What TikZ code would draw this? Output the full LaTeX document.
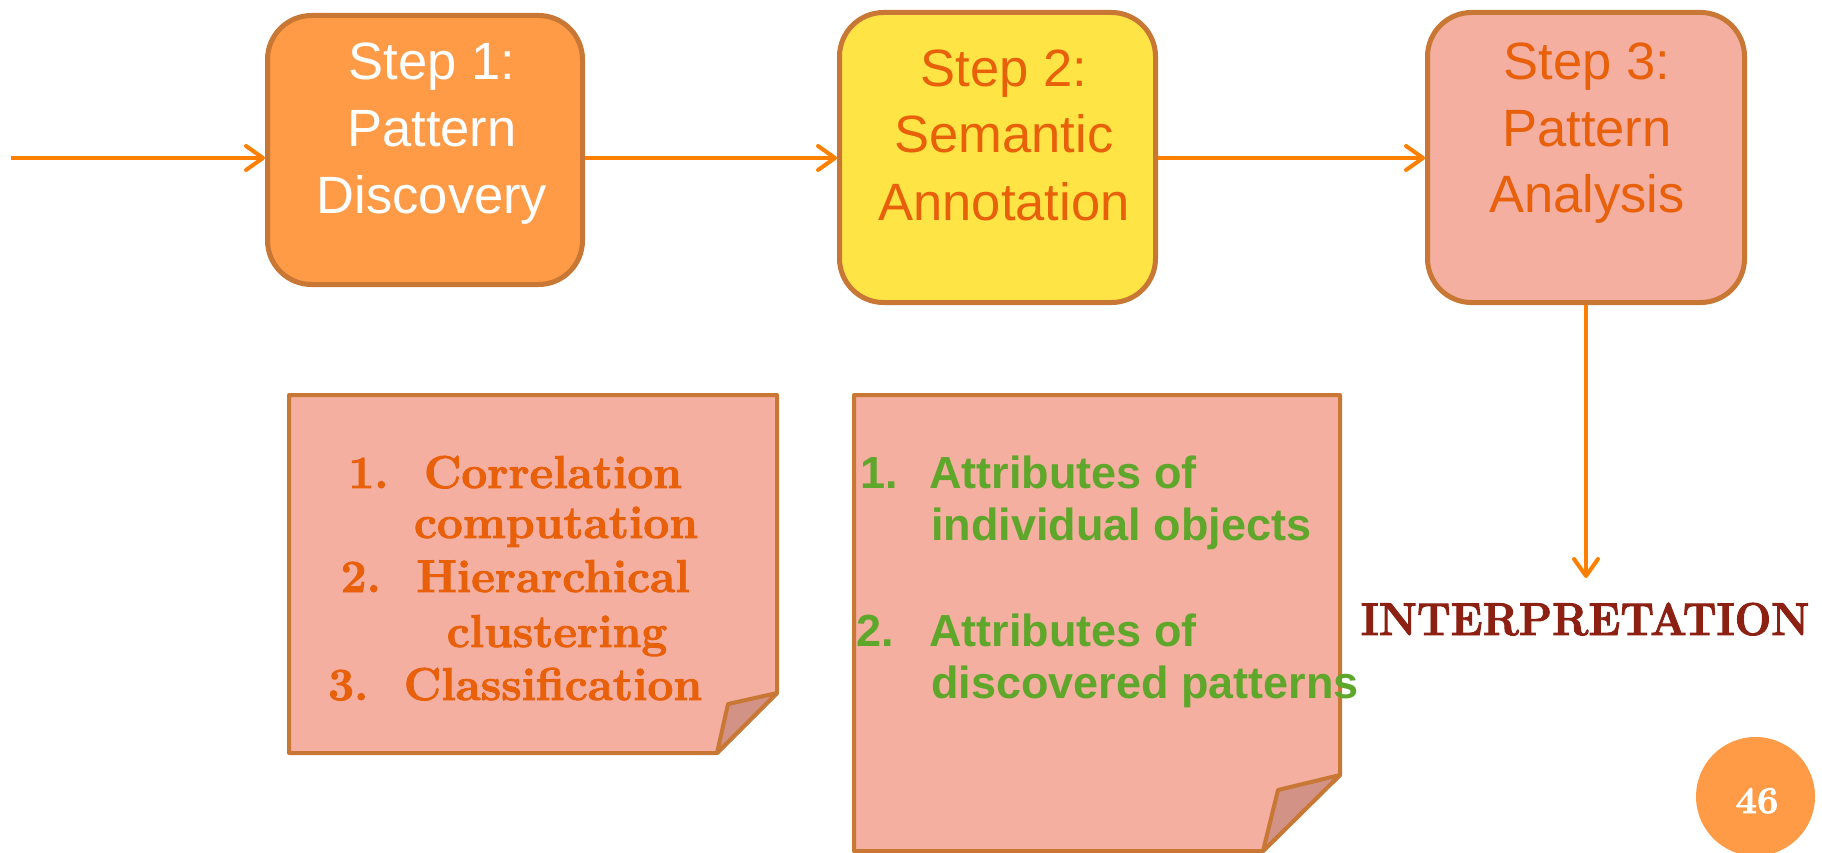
\documentclass[tikz,border=0pt]{standalone}
\usepackage{fontspec}
\newfontfamily\stepfont{Liberation Sans}
\newfontfamily\heavyserif[BoldFeatures={FakeBold=2}]{Latin Modern Roman}
\newfontfamily\narrowserif[BoldFeatures={FakeBold=2,FakeStretch=0.94}]{Latin Modern Roman}
\usetikzlibrary{arrows.meta}

\definecolor{boxline}{RGB}{201,119,52}
\definecolor{flowline}{RGB}{255,128,0}
\definecolor{orangefill}{RGB}{255,154,71}
\definecolor{yellowfill}{RGB}{255,228,70}
\definecolor{pinkfill}{RGB}{244,175,161}
\definecolor{flapfill}{RGB}{210,146,133}
\definecolor{orangetext}{RGB}{232,96,10}
\definecolor{greentext}{RGB}{94,167,42}
\definecolor{darkred}{RGB}{140,32,18}

\tikzset{
  stepbox/.style={draw=boxline, line width=5pt, rounded corners=44pt, inner sep=0pt},
  steptext/.style={font=\stepfont\fontsize{52.5}{62}\selectfont, anchor=base, inner sep=0pt},
  flow/.style={draw=flowline, line width=4pt,
    -{Straight Barb[length=17pt,width=24pt,line cap=round,line join=round]}},
  note/.style={draw=boxline, line width=4pt, line join=round, fill=pinkfill},
  flap/.style={draw=boxline, line width=4pt, line join=round, fill=flapfill},
  listserif/.style={font=\heavyserif\bfseries\fontsize{46}{52}\selectfont, text=orangetext, inner sep=0pt},
  listsans/.style={font=\stepfont\bfseries\fontsize{45}{52}\selectfont, text=greentext,
    inner sep=0pt, anchor=base west},
}

\begin{document}
\begin{tikzpicture}[x=1pt,y=-1pt]
\useasboundingbox (0,0) rectangle (1822,853);

% the three process steps
\node[stepbox, fill=orangefill, minimum width=315pt, minimum height=269pt] (s1) at (425,150) {};
\node[stepbox, fill=yellowfill, minimum width=316pt, minimum height=290pt] (s2) at (997.5,157.5) {};
\node[stepbox, fill=pinkfill, minimum width=317pt, minimum height=290pt] (s3) at (1586,157.5) {};

\node[steptext, text=white] (t1a) at (432,80) {Step 1:};
\node[steptext, text=white] (t1b) at (432,147) {Pattern};
\node[steptext, text=white] (t1c) at (432,213) {Discovery};

\node[steptext, text=orangetext] (t2a) at (1004,87) {Step 2:};
\node[steptext, text=orangetext] (t2b) at (1004,153) {Semantic};
\node[steptext, text=orangetext] (t2c) at (1004,220) {Annotation};

\node[steptext, text=orangetext] (t3a) at (1587,80) {Step 3:};
\node[steptext, text=orangetext] (t3b) at (1587,147) {Pattern};
\node[steptext, text=orangetext] (t3c) at (1587,212) {Analysis};

% flow arrows
\coordinate (in) at (11,158);
\coordinate (out) at (1586,578);
\draw[flow] (in) -- (in -| s1.west);
\draw[flow] (s1.east |- in) -- (in -| s2.west);
\draw[flow] (s2.east |- in) -- (in -| s3.west);
\draw[flow] (s3.south) -- (out);

% sticky note for step 1
\draw[note] (289,395) -- (777,395) -- (777,693) -- (717,753) -- (289,753) -- cycle;
\draw[flap] (777,693) -- (728,704) -- (717,753) -- cycle;

\node[listserif, anchor=base] (c1) at (553,488) {Correlation};
\node[listserif, anchor=base east] (c1n) at ([xshift=-35pt]c1.base west) {1.};
\node[listserif, anchor=base] (c2) at (556,538) {computation};
\node[listserif, anchor=base] (c3) at (553,592) {Hierarchical};
\node[listserif, anchor=base east] (c3n) at ([xshift=-35pt]c3.base west) {2.};
\node[listserif, anchor=base] (c4) at (557,647) {clustering};
\node[listserif, anchor=base] (c5) at (553,700) {Classification};
\node[listserif, anchor=base east] (c5n) at ([xshift=-35pt]c5.base west) {3.};

% sticky note for step 2
\draw[note] (854,395) -- (1340,395) -- (1340,775) -- (1263,851) -- (854,851) -- cycle;
\draw[flap] (1340,775) -- (1278,790) -- (1263,851) -- cycle;

\node[listsans] (a1n) at (860,488) {1.};
\node[listsans] (a1) at (929,488) {Attributes of};
\node[listsans] (a2) at (931,540) {individual objects};
\node[listsans] (a3n) at (856,646) {2.};
\node[listsans] (a3) at (929,646) {Attributes of};
\node[listsans] (a4) at (931,698) {discovered patterns};

% result of the last step
\node[font=\narrowserif\bfseries\fontsize{46}{52}\selectfont, text=darkred, anchor=base, inner sep=0pt]
  (interp) at (1585,635) {INTERPRETATION};

% page number badge
\node[circle, fill=orangefill, minimum size=119pt, inner sep=0pt] (page) at (1755.5,796.5) {};
\node[font=\heavyserif\bfseries\fontsize{38}{44}\selectfont, text=white, anchor=base, inner sep=0pt]
  (pnum) at (1757,813) {46};
\end{tikzpicture}
\end{document}
